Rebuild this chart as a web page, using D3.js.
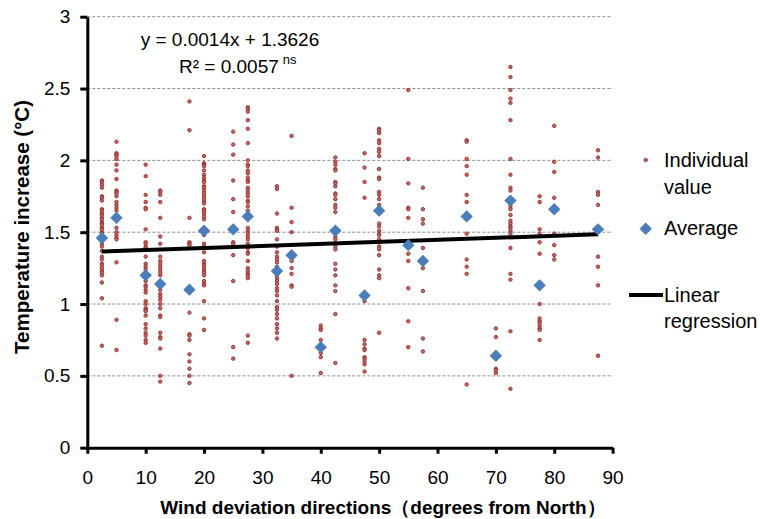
<!DOCTYPE html>
<html>
<head>
<meta charset="utf-8">
<script src="https://cdn.jsdelivr.net/npm/d3@7"></script>
<style>
  body { margin: 0; background: #fff; }
  text { font-family: "Liberation Sans", Arial, sans-serif; fill: #000; }
</style>
</head>
<body>
<script>
// Wind deviation directions (degrees from North) that have observations
const directions = [2.5, 5, 10, 12.5, 17.5, 20, 25, 27.5, 32.5, 35, 40, 42.5, 47.5, 50, 55, 57.5, 65, 70, 72.5, 77.5, 80, 87.5];

// Average temperature increase for each direction
const averages = [1.46, 1.60, 1.20, 1.14, 1.10, 1.51, 1.52, 1.61, 1.23, 1.34, 0.70, 1.51, 1.06, 1.65, 1.41, 1.30, 1.61, 0.64, 1.72, 1.13, 1.66, 1.52];

// Individual values, one list per direction (same order as directions)
const individualValues = [
  [1.86,1.85,1.83,1.81,1.75,1.74,1.72,1.66,1.65,1.63,1.62,1.60,1.59,1.57,1.56,1.55,1.53,1.52,1.50,1.49,1.47,1.45,1.44,1.42,1.40,1.37,1.33,1.31,1.28,1.27,1.25,1.23,1.22,1.20,1.15,1.04,0.71],
  [2.13,2.05,2.04,2.03,2.01,1.97,1.93,1.87,1.79,1.78,1.77,1.75,1.71,1.69,1.67,1.65,1.62,1.60,1.53,1.50,1.48,1.46,1.45,1.29,0.89,0.68],
  [1.97,1.89,1.76,1.71,1.67,1.66,1.52,1.43,1.42,1.40,1.39,1.33,1.28,1.26,1.24,1.20,1.16,1.13,1.12,1.10,1.08,1.02,1.00,0.97,0.96,0.95,0.92,0.86,0.83,0.80,0.78,0.75,0.73],
  [1.79,1.78,1.76,1.71,1.60,1.47,1.42,1.33,1.30,1.28,1.26,1.24,1.22,1.20,1.14,1.10,1.07,1.05,1.03,1.00,0.97,0.92,0.91,0.80,0.77,0.76,0.69,0.50,0.46],
  [2.41,2.21,1.60,1.43,1.42,1.41,0.94,0.79,0.78,0.75,0.65,0.60,0.55,0.50,0.45],
  [2.03,1.98,1.97,1.96,1.93,1.90,1.88,1.86,1.85,1.82,1.81,1.79,1.77,1.75,1.73,1.71,1.70,1.66,1.65,1.63,1.61,1.59,1.51,1.48,1.42,1.40,1.39,1.36,1.30,1.28,1.27,1.25,1.23,1.22,1.20,1.16,1.14,1.13,1.02,0.90,0.82],
  [2.20,2.11,2.04,1.86,1.73,1.64,1.43,1.42,1.34,1.16,0.70,0.62],
  [2.37,2.36,2.34,2.28,2.22,2.12,2.00,1.97,1.96,1.93,1.91,1.88,1.86,1.85,1.81,1.79,1.77,1.75,1.72,1.71,1.68,1.65,1.61,1.53,1.51,1.49,1.47,1.45,1.42,1.39,1.36,1.35,1.30,1.25,1.23,1.21,1.20,1.18,0.78,0.73],
  [1.82,1.80,1.63,1.53,1.52,1.51,1.45,1.40,1.36,1.33,1.31,1.29,1.26,1.23,1.20,1.18,1.16,1.14,1.11,1.09,1.06,1.02,0.98,0.96,0.93,0.90,0.86,0.83,0.80,0.76],
  [2.17,1.67,1.57,1.50,1.30,1.25,1.21,1.13,1.12,0.50],
  [0.85,0.83,0.82,0.75,0.70,0.66,0.63,0.52],
  [2.02,1.99,1.97,1.94,1.93,1.85,1.84,1.82,1.77,1.76,1.73,1.69,1.67,1.64,1.52,1.47,1.45,1.42,1.40,1.38,1.28,1.24,1.20,1.13,1.09,0.93,0.59],
  [2.05,1.95,1.85,1.74,1.02,0.75,0.72,0.69,0.68,0.63,0.62,0.60,0.58,0.53],
  [2.22,2.21,2.19,2.14,2.12,2.08,2.06,2.03,1.94,1.88,1.87,1.78,1.76,1.73,1.69,1.66,1.64,1.56,1.54,1.51,1.49,1.48,1.45,1.43,1.40,1.38,1.34,1.24,1.20,1.18,0.80],
  [2.49,2.01,1.84,1.67,1.66,1.60,1.35,1.30,1.11,0.88,0.70],
  [1.81,1.66,1.59,1.56,1.39,1.25,1.09,0.76,0.67],
  [2.14,2.13,2.01,1.96,1.90,1.76,1.71,1.49,1.31,1.26,1.21,0.44],
  [0.83,0.77,0.55,0.54,0.52],
  [2.65,2.58,2.49,2.43,2.40,2.28,2.01,1.90,1.81,1.79,1.68,1.66,1.62,1.58,1.56,1.54,1.53,1.51,1.49,1.39,1.21,1.17,0.81,0.41],
  [1.75,1.71,1.52,1.49,1.43,1.35,1.00,0.90,0.88,0.87,0.85,0.83,0.82,0.75],
  [2.24,1.99,1.92,1.74,1.49,1.41,1.34,1.31],
  [2.07,2.02,1.78,1.76,1.69,1.33,1.26,1.13,0.64]
];

// Linear regression y = slope * x + intercept
const slope = 0.0014;
const intercept = 1.3626;
const xTicks = [0, 10, 20, 30, 40, 50, 60, 70, 80, 90];
const yTicks = [0, 0.5, 1, 1.5, 2, 2.5, 3];

const width = 760;
const height = 519;
const margin = { top: 16.7, right: 147.4, bottom: 71.3, left: 87.3 };
const plotW = width - margin.left - margin.right;
const plotH = height - margin.top - margin.bottom;

const svg = d3.select("body")
  .append("svg")
  .attr("width", width)
  .attr("height", height);

const g = svg.append("g")
  .attr("transform", `translate(${margin.left},${margin.top})`);

const x = d3.scaleLinear().domain([0, 90]).range([0, plotW]);
const y = d3.scaleLinear().domain([0, 3]).range([plotH, 0]);

// dashed gridlines
g.append("g")
  .selectAll("line")
  .data(yTicks.filter(d => d > 0))
  .join("line")
  .attr("x1", 0)
  .attr("x2", plotW)
  .attr("y1", d => y(d))
  .attr("y2", d => y(d))
  .attr("stroke", "#8c8c8c")
  .attr("stroke-width", 1)
  .attr("stroke-dasharray", "3,2");

// individual values
const points = directions.flatMap((dir, i) => individualValues[i].map(v => ({ dir, v })));
g.append("g")
  .selectAll("circle")
  .data(points)
  .join("circle")
  .attr("cx", d => x(d.dir))
  .attr("cy", d => y(d.v))
  .attr("r", 1.7)
  .attr("fill", "#c96a68")
  .attr("stroke", "#963230")
  .attr("stroke-width", 1);

// regression line
const xExt = d3.extent(directions);
g.append("line")
  .attr("x1", x(xExt[0]))
  .attr("x2", x(xExt[1]))
  .attr("y1", y(slope * xExt[0] + intercept))
  .attr("y2", y(slope * xExt[1] + intercept))
  .attr("stroke", "#000")
  .attr("stroke-width", 4);

// averages as diamonds
const diamond = "M0,-6.2L6.2,0L0,6.2L-6.2,0Z";
g.append("g")
  .selectAll("path")
  .data(directions.map((d, i) => ({ dir: d, v: averages[i] })))
  .join("path")
  .attr("d", diamond)
  .attr("transform", d => `translate(${x(d.dir)},${y(d.v)})`)
  .attr("fill", "#4a7ebb");

// axes
const yAxis = g.append("g")
  .call(d3.axisLeft(y).tickValues(yTicks).tickFormat(d3.format("")).tickSize(7).tickSizeOuter(0).tickPadding(10));
const xAxis = g.append("g")
  .attr("transform", `translate(0,${plotH})`)
  .call(d3.axisBottom(x).tickValues(xTicks).tickSize(6).tickSizeOuter(0).tickPadding(17));

[yAxis, xAxis].forEach(a => {
  a.select(".domain").attr("stroke", "#000").attr("stroke-width", 3);
  a.selectAll(".tick line").attr("stroke", "#000").attr("stroke-width", 3);
  a.selectAll(".tick text").attr("font-size", 19).attr("font-family", "Liberation Sans, Arial, sans-serif").attr("fill", "#000");
});

// axis titles
svg.append("text")
  .attr("x", 383)
  .attr("y", 514)
  .attr("text-anchor", "middle")
  .attr("font-size", 19)
  .attr("font-weight", "bold")
  .text("Wind deviation directions（degrees from North）");

svg.append("text")
  .attr("transform", "translate(29,227) rotate(-90)")
  .attr("text-anchor", "middle")
  .attr("font-size", 20.5)
  .attr("font-weight", "bold")
  .text("Temperature increase (°C)");

// equation
svg.append("text")
  .attr("x", 230)
  .attr("y", 46)
  .attr("text-anchor", "middle")
  .attr("font-size", 19)
  .text("y = 0.0014x + 1.3626");

const r2 = svg.append("text")
  .attr("x", 179)
  .attr("y", 72.7)
  .attr("font-size", 19);
r2.append("tspan").text("R² = 0.0057");
r2.append("tspan").attr("dx", 4).attr("dy", -9).attr("font-size", 13).text("ns");

// legend
const legend = svg.append("g");
legend.append("circle")
  .attr("cx", 645.7).attr("cy", 160).attr("r", 1.7)
  .attr("fill", "#c96a68").attr("stroke", "#963230").attr("stroke-width", 1);
legend.append("text").attr("x", 664).attr("y", 167).attr("font-size", 20).text("Individual");
legend.append("text").attr("x", 664).attr("y", 194).attr("font-size", 20).text("value");

legend.append("path")
  .attr("d", diamond)
  .attr("transform", "translate(645.7,228.7)")
  .attr("fill", "#4a7ebb");
legend.append("text").attr("x", 664).attr("y", 235).attr("font-size", 20).text("Average");

legend.append("line")
  .attr("x1", 629).attr("x2", 663).attr("y1", 295).attr("y2", 295)
  .attr("stroke", "#000").attr("stroke-width", 4);
legend.append("text").attr("x", 664).attr("y", 302).attr("font-size", 20).text("Linear");
legend.append("text").attr("x", 664).attr("y", 328).attr("font-size", 20).text("regression");
</script>
</body>
</html>
